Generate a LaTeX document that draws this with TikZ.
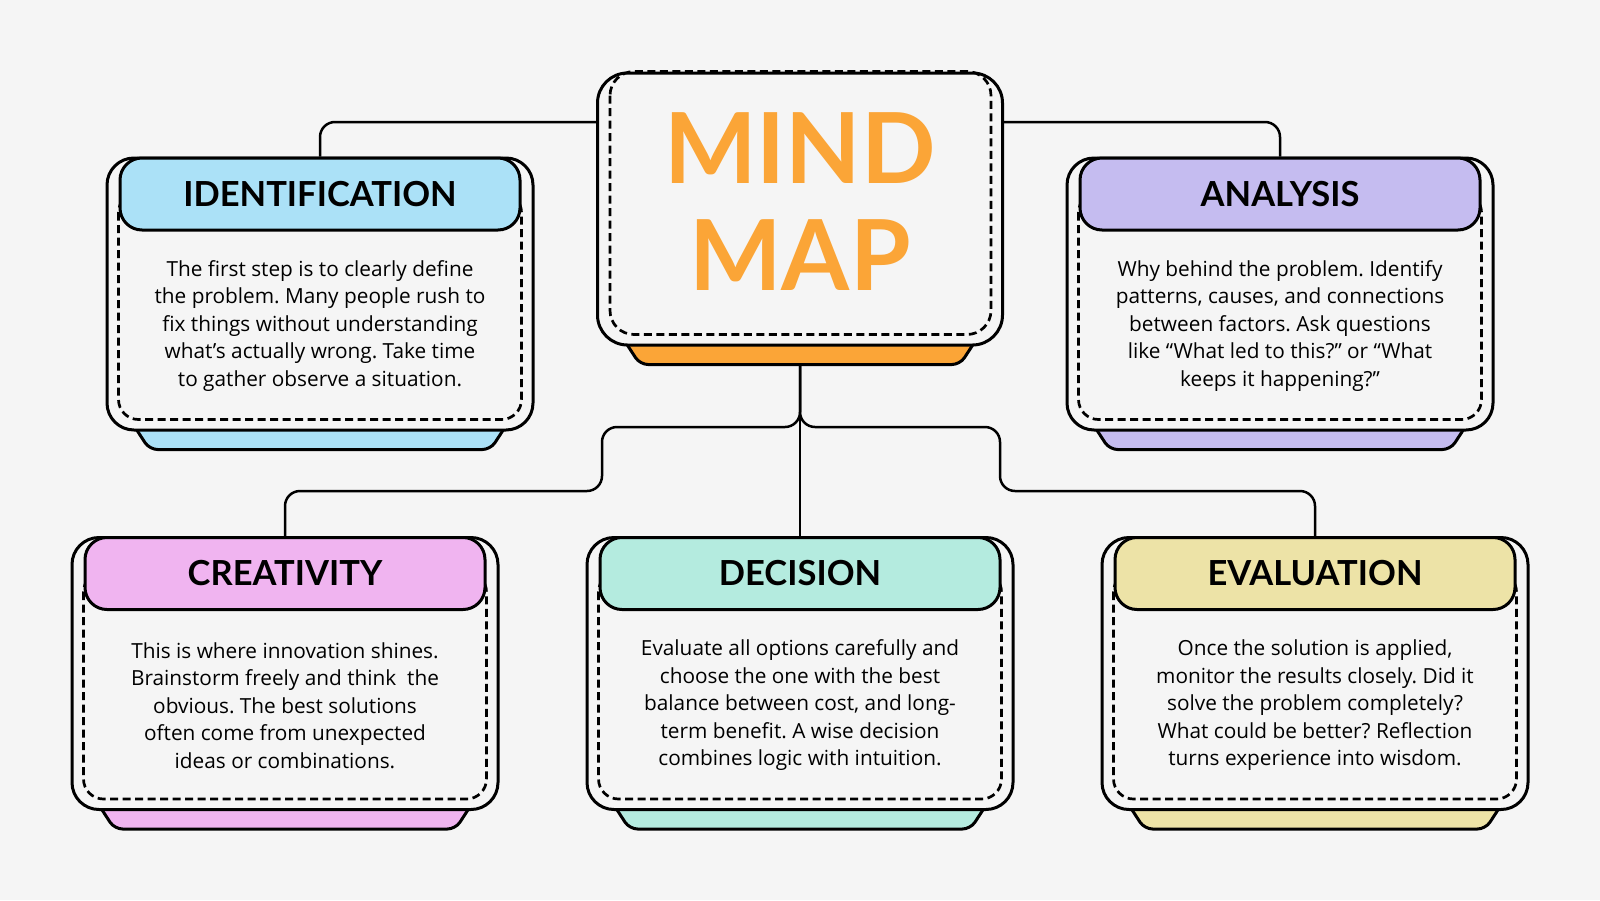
\documentclass[tikz,border=0pt]{standalone}
\usepackage{fontspec}
\setmainfont{Lato}
\newfontfamily\bodyfont{Open Sans}
\usetikzlibrary{positioning}
\pgfdeclarelayer{bg}
\pgfdeclarelayer{links}
\pgfdeclarelayer{tabs}
\pgfsetlayers{bg,links,tabs,main}
\definecolor{paper}{HTML}{F5F5F5}
\definecolor{hubc}{HTML}{FBA537}
\definecolor{identc}{HTML}{ABE1F7}
\definecolor{analc}{HTML}{C5BCF0}
\definecolor{creac}{HTML}{F0B4F0}
\definecolor{decc}{HTML}{B4EBDF}
\definecolor{evalc}{HTML}{EDE3A7}

\begin{document}
\begin{tikzpicture}[
    x=1pt, y=-1pt,
    card/.style={rectangle, draw, line width=3pt, fill=paper, rounded corners=27pt, minimum width=426pt, minimum height=272pt, inner sep=0pt},
    hubbox/.style={card, rounded corners=30pt, minimum width=405pt},
    head/.style={rectangle, draw, line width=3pt, rounded corners=22pt, minimum width=400pt, minimum height=72pt, inner sep=0pt, anchor=north, font=\bfseries\fontsize{34.5}{34.5}\selectfont},
    body/.style={align=center, inner sep=0pt, font=\bodyfont\frenchspacing\fontsize{20.8}{27.5}\selectfont},
    dashline/.style={dash pattern=on 8pt off 4.5pt, line width=2.7pt, rounded corners=20pt},
    tab/.style={draw, line width=3pt, rounded corners=8pt},
    link/.style={line width=2.5pt, rounded corners=15pt}
]
    \useasboundingbox (0,0) rectangle (1600,900);
    \begin{pgfonlayer}{bg}
        \fill[paper] (0,0) rectangle (1600,900);
    \end{pgfonlayer}

    % centre
    \node[hubbox] (hub) at (800,209) {};
    \draw[dashline, rounded corners=24pt] ([xshift=14pt]hub.north west) rectangle ([shift={(-13pt,12pt)}]hub.south east);
    \node[text=hubc, align=center, inner sep=0pt, font=\bfseries\fontsize{98}{107}\selectfont] (hub-t) at ([yshift=7pt]hub.center) {MIND\\MAP};

    % top row
    \node[card] (ident) at (320,294) {};
    \node[card, right=531pt of ident] (anal) {};

    % bottom row
    \node[card] (crea) at (285,673.5) {};
    \node[card, right=86pt of crea] (dec) {};
    \node[card, right=86pt of dec] (eval) {};

    % dashed insets
    \draw[dashline] ([shift={(13pt,-36pt)}]ident.north west) rectangle ([shift={(-13pt,12pt)}]ident.south east);
    \draw[dashline] ([shift={(13pt,-36pt)}]anal.north west) rectangle ([shift={(-13pt,12pt)}]anal.south east);
    \draw[dashline] ([shift={(13pt,-36pt)}]crea.north west) rectangle ([shift={(-13pt,12pt)}]crea.south east);
    \draw[dashline] ([shift={(13pt,-36pt)}]dec.north west) rectangle ([shift={(-13pt,12pt)}]dec.south east);
    \draw[dashline] ([shift={(13pt,-36pt)}]eval.north west) rectangle ([shift={(-13pt,12pt)}]eval.south east);

    % headers
    \node[head, fill=identc] (ident-h) at (ident.north) {IDENTIFICATION};
    \node[head, fill=analc] (anal-h) at (anal.north) {ANALYSIS};
    \node[head, fill=creac] (crea-h) at (crea.north) {CREATIVITY};
    \node[head, fill=decc] (dec-h) at (dec.north) {DECISION};
    \node[head, fill=evalc] (eval-h) at (eval.north) {EVALUATION};

    % texts
    \node[body] (ident-b) at ([yshift=-32pt]ident.center) {The first step is to clearly define\\the problem. Many people rush to\\fix things without understanding\\what’s actually wrong. Take time\\to gather observe a situation.};
    \node[body] (anal-b) at ([yshift=-32pt]anal.center) {Why behind the problem. Identify\\patterns, causes, and connections\\between factors. Ask questions\\like “What led to this?” or “What\\keeps it happening?”};
    \node[body] (crea-b) at ([yshift=-32pt]crea.center) {This is where innovation shines.\\Brainstorm freely and think\ \ the\\obvious. The best solutions\\often come from unexpected\\ideas or combinations.};
    \node[body] (dec-b) at ([yshift=-32pt]dec.center) {Evaluate all options carefully and\\choose the one with the best\\balance between cost, and long-\\term benefit. A wise decision\\combines logic with intuition.};
    \node[body] (eval-b) at ([yshift=-32pt]eval.center) {Once the solution is applied,\\monitor the results closely. Did it\\solve the problem completely?\\What could be better? Reflection\\turns experience into wisdom.};

    % tabs under the boxes
    \begin{pgfonlayer}{tabs}
        \draw[tab, fill=hubc] ([shift={(29pt,5pt)}]hub.south west) -- ([shift={(44pt,-18pt)}]hub.south west) -- ([shift={(-44pt,-18pt)}]hub.south east) -- ([shift={(-29pt,5pt)}]hub.south east);
        \draw[tab, fill=identc] ([shift={(29pt,5pt)}]ident.south west) -- ([shift={(44pt,-18pt)}]ident.south west) -- ([shift={(-44pt,-18pt)}]ident.south east) -- ([shift={(-29pt,5pt)}]ident.south east);
        \draw[tab, fill=analc] ([shift={(29pt,5pt)}]anal.south west) -- ([shift={(44pt,-18pt)}]anal.south west) -- ([shift={(-44pt,-18pt)}]anal.south east) -- ([shift={(-29pt,5pt)}]anal.south east);
        \draw[tab, fill=creac] ([shift={(29pt,5pt)}]crea.south west) -- ([shift={(44pt,-18pt)}]crea.south west) -- ([shift={(-44pt,-18pt)}]crea.south east) -- ([shift={(-29pt,5pt)}]crea.south east);
        \draw[tab, fill=decc] ([shift={(29pt,5pt)}]dec.south west) -- ([shift={(44pt,-18pt)}]dec.south west) -- ([shift={(-44pt,-18pt)}]dec.south east) -- ([shift={(-29pt,5pt)}]dec.south east);
        \draw[tab, fill=evalc] ([shift={(29pt,5pt)}]eval.south west) -- ([shift={(44pt,-18pt)}]eval.south west) -- ([shift={(-44pt,-18pt)}]eval.south east) -- ([shift={(-29pt,5pt)}]eval.south east);
    \end{pgfonlayer}

    % connectors
    \begin{pgfonlayer}{links}
        \draw[link] (ident.north) |- ([yshift=87pt]hub.west);
        \draw[link] ([yshift=87pt]hub.east) -| (anal.north);
        \draw[link] (hub.south) -- (dec.north);
        \draw[link] (hub.south) |- (602,427) |- (crea.north |- 0,491) -- (crea.north);
        \draw[link] (hub.south) |- (1000,427) |- (eval.north |- 0,491) -- (eval.north);
    \end{pgfonlayer}
\end{tikzpicture}
\end{document}
